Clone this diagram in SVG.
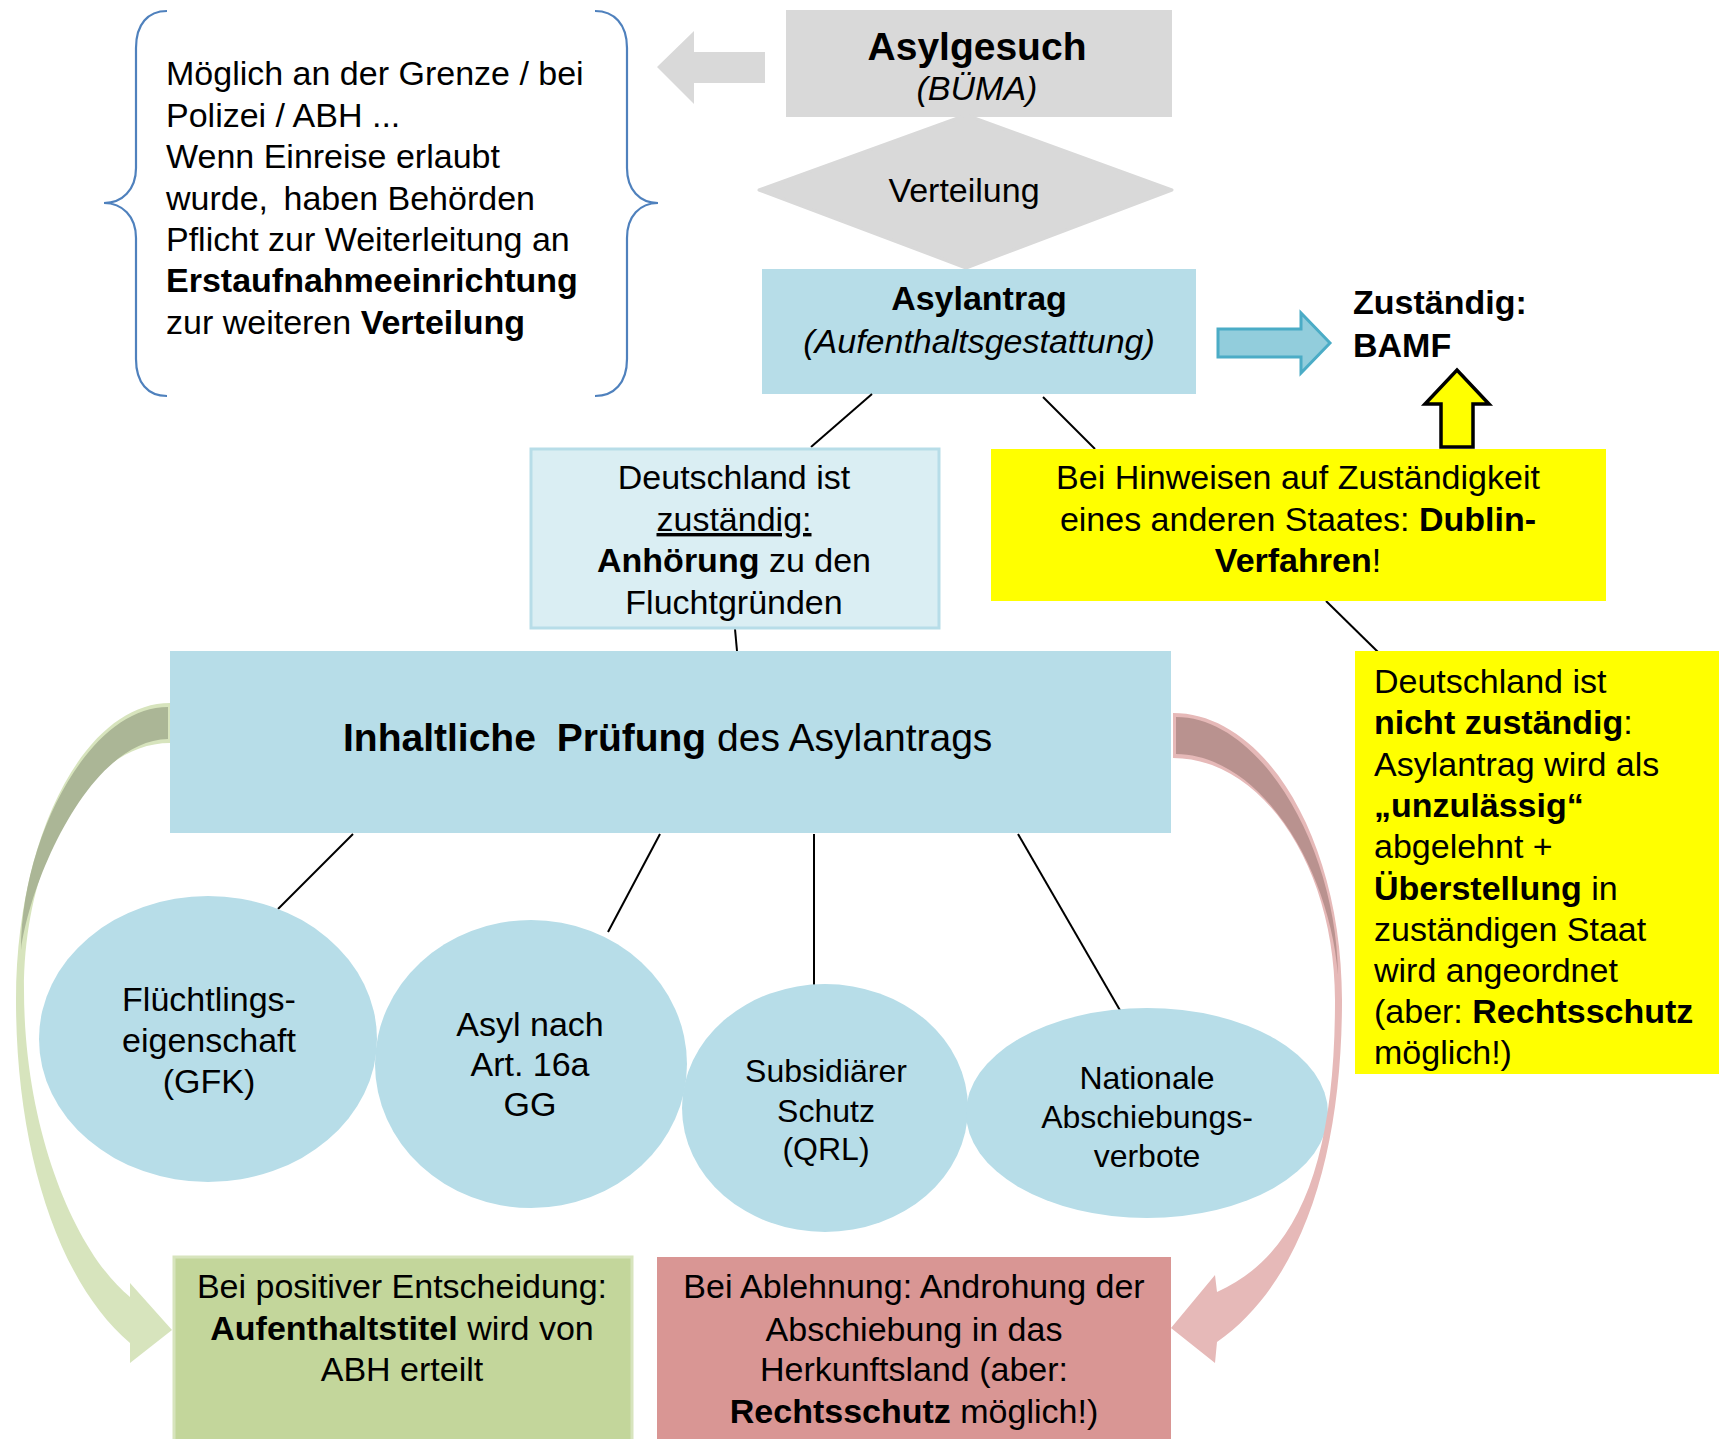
<svg xmlns="http://www.w3.org/2000/svg" width="1724" height="1439" viewBox="0 0 1724 1439">
<defs>
<style>
.t{font-family:"Liberation Sans",Arial,sans-serif;font-size:34px;fill:#000}
.c{text-anchor:middle}
.b{font-weight:bold}
.i{font-style:italic}
.brace{fill:none;stroke:#4f81bd;stroke-width:2.2}
.blue{fill:#b7dde8}
.conn{stroke:#000;stroke-width:2;fill:none}
</style>
</defs>
<rect width="1724" height="1439" fill="#fff"/>

<g id="note">
<path class="brace" d="M167,11 C148,11 136,24 136,48 L136,168 C136,190 122,203 104,203 C122,203 136,216 136,238 L136,359 C136,383 148,396 167,396"/>
<path class="brace" d="M595,11 C614,11 627,24 627,48 L627,168 C627,190 640,203 658,203 C640,203 627,216 627,238 L627,359 C627,383 614,396 595,396"/>
<text class="t" x="166" y="85">Möglich an der Grenze / bei</text>
<text class="t" x="166" y="127">Polizei / ABH ...</text>
<text class="t" x="166" y="168">Wenn Einreise erlaubt</text>
<text class="t" x="166" y="210">wurde,<tspan dx="6"> haben Behörden</tspan></text>
<text class="t" x="166" y="251">Pflicht zur Weiterleitung an</text>
<text class="t b" x="166" y="292">Erstaufnahmeeinrichtung</text>
<text class="t" x="166" y="334">zur weiteren <tspan class="b">Verteilung</tspan></text>
</g>

<g id="arrow-left">
<path d="M765,52 L694,52 L694,31 L657,67 L694,104 L694,83 L765,83 Z" fill="#d9d9d9"/>
</g>

<g id="asylgesuch">
<rect x="786" y="10" width="386" height="107" fill="#d9d9d9"/>
<text class="t c b" x="977" y="60" style="font-size:39px">Asylgesuch</text>
<text class="t c i" x="977" y="100">(BÜMA)</text>
</g>

<g id="verteilung">
<polygon points="966,115 1172,190 966,268 759,190" fill="#d9d9d9" stroke="#d9d9d9" stroke-width="3" stroke-linejoin="round"/>
<text class="t c" x="964" y="202">Verteilung</text>
</g>

<g id="asylantrag">
<rect x="762" y="269" width="434" height="125" class="blue"/>
<text class="t c b" x="979" y="310">Asylantrag</text>
<text class="t c i" x="979" y="353">(Aufenthaltsgestattung)</text>
</g>

<g id="arrow-bamf">
<path d="M1218,329 L1301,329 L1301,313 L1330,343 L1301,373 L1301,357 L1218,357 Z" fill="#92cddc" stroke="#4bacc6" stroke-width="3"/>
</g>

<g id="bamf">
<text class="t b" x="1353" y="314">Zuständig:</text>
<text class="t b" x="1353" y="357">BAMF</text>
</g>

<g id="arrow-up">
<path d="M1441,447 L1441,404 L1425,404 L1457,370 L1489,404 L1473,404 L1473,447 Z" fill="#ffff00" stroke="#000" stroke-width="3.5" stroke-linejoin="miter"/>
</g>

<g id="connectors">
<line class="conn" x1="872" y1="394" x2="811" y2="447"/>
<line class="conn" x1="1043" y1="397" x2="1095" y2="449"/>
<line class="conn" x1="735" y1="629" x2="737" y2="651"/>
<line class="conn" x1="1326" y1="601" x2="1378" y2="652"/>
<line class="conn" x1="353" y1="834" x2="278" y2="909"/>
<line class="conn" x1="660" y1="834" x2="608" y2="932"/>
<line class="conn" x1="814" y1="834" x2="814" y2="988"/>
<line class="conn" x1="1018" y1="834" x2="1121" y2="1012"/>
</g>

<g id="zustaendig">
<rect x="531" y="449" width="408" height="179" fill="#daeef3" stroke="#b7dde8" stroke-width="3"/>
<text class="t c" x="734" y="489">Deutschland ist</text>
<text class="t c" x="734" y="531" text-decoration="underline">zuständig:</text>
<text class="t c" x="734" y="572"><tspan class="b">Anhörung</tspan> zu den</text>
<text class="t c" x="734" y="614">Fluchtgründen</text>
</g>

<g id="dublin">
<rect x="991" y="449" width="615" height="152" fill="#ffff00"/>
<text class="t c" x="1298" y="489">Bei Hinweisen auf Zuständigkeit</text>
<text class="t c" x="1298" y="531">eines anderen Staates: <tspan class="b">Dublin-</tspan></text>
<text class="t c" x="1298" y="572"><tspan class="b">Verfahren</tspan>!</text>
</g>

<g id="nicht-zustaendig">
<rect x="1355" y="651" width="364" height="423" fill="#ffff00"/>
<text class="t" x="1374" y="693">Deutschland ist</text>
<text class="t" x="1374" y="734"><tspan class="b">nicht zuständig</tspan>:</text>
<text class="t" x="1374" y="776">Asylantrag wird als</text>
<text class="t b" x="1374" y="817">„unzulässig“</text>
<text class="t" x="1374" y="858">abgelehnt +</text>
<text class="t" x="1374" y="900"><tspan class="b">Überstellung</tspan> in</text>
<text class="t" x="1374" y="941">zuständigen Staat</text>
<text class="t" x="1374" y="982">wird angeordnet</text>
<text class="t" x="1374" y="1023">(aber: <tspan class="b">Rechtsschutz</tspan></text>
<text class="t" x="1374" y="1064">möglich!)</text>
</g>

<g id="pruefung">
<rect x="170" y="651" width="1001" height="182" class="blue"/>
<text class="t" x="343" y="751" style="font-size:39px"><tspan class="b">Inhaltliche</tspan><tspan class="b" dx="10"> Prüfung</tspan> des Asylantrags</text>
</g>

<g id="gfk">
<ellipse cx="208" cy="1039" rx="169" ry="143" class="blue"/>
<text class="t c" x="209" y="1011">Flüchtlings-</text>
<text class="t c" x="209" y="1052">eigenschaft</text>
<text class="t c" x="209" y="1093">(GFK)</text>
</g>

<g id="art16a">
<ellipse cx="531" cy="1064" rx="156" ry="144" class="blue"/>
<text class="t c" x="530" y="1036">Asyl nach</text>
<text class="t c" x="530" y="1076">Art. 16a</text>
<text class="t c" x="530" y="1116">GG</text>
</g>

<g id="subsidiaer">
<ellipse cx="825" cy="1108" rx="143" ry="124" class="blue"/>
<text class="t c" x="826" y="1082" style="font-size:32px">Subsidiärer</text>
<text class="t c" x="826" y="1122" style="font-size:32px">Schutz</text>
<text class="t c" x="826" y="1160" style="font-size:32px">(QRL)</text>
</g>

<g id="national">
<ellipse cx="1147" cy="1113" rx="181" ry="105" class="blue"/>
<text class="t c" x="1147" y="1089" style="font-size:32px">Nationale</text>
<text class="t c" x="1147" y="1128" style="font-size:32px">Abschiebungs-</text>
<text class="t c" x="1147" y="1167" style="font-size:32px">verbote</text>
</g>

<g id="positiv">
<rect x="174" y="1257" width="458" height="190" fill="#c3d69b" stroke="#d7e4bd" stroke-width="3"/>
<text class="t c" x="402" y="1298">Bei positiver Entscheidung:</text>
<text class="t c" x="402" y="1340"><tspan class="b">Aufenthaltstitel</tspan> wird von</text>
<text class="t c" x="402" y="1381">ABH erteilt</text>
</g>

<g id="ablehnung">
<rect x="657" y="1257" width="514" height="190" fill="#d99694"/>
<text class="t c" x="914" y="1298">Bei Ablehnung: Androhung der</text>
<text class="t c" x="914" y="1341">Abschiebung in das</text>
<text class="t c" x="914" y="1381">Herkunftsland (aber:</text>
<text class="t c" x="914" y="1423"><tspan class="b">Rechtsschutz</tspan> möglich!)</text>
</g>

<g id="arrow-green">
<path d="M170,703 C85,703 16,836 16,1000 C16,1150 58,1282 130,1343 L130,1363 L172,1330 L130,1283 L130,1297 C75,1252 24,1130 24,990 C24,854 89,743 170,743 Z" fill="#d7e4bd"/>
<path d="M168,707 C88,707 21,840 21,950 C30,880 90,740 168,739 Z" fill="#abb696"/>
</g>

<g id="arrow-red">
<path d="M1173,713 C1266,713 1342,841 1342,1000 C1342,1150 1305,1280 1217,1342 L1215,1363 L1171,1328 L1215,1275 L1217,1292 C1300,1255 1335,1160 1335,1000 C1335,866 1262,758 1173,758 Z" fill="#e6b9b8"/>
<path d="M1176,717 C1262,717 1337,850 1338,975 C1330,870 1262,755 1176,754 Z" fill="#b9928f"/>
</g>
</svg>
